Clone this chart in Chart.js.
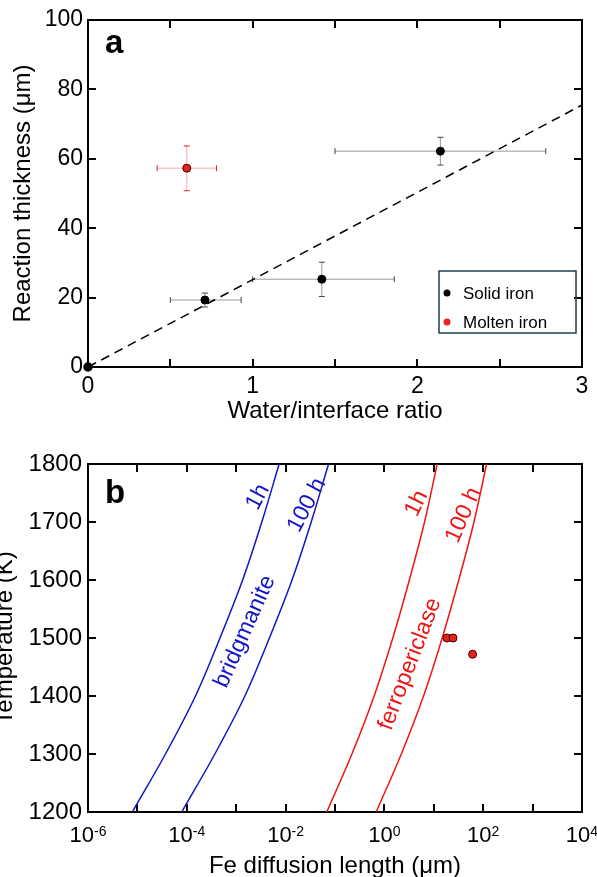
<!DOCTYPE html>
<html>
<head>
<meta charset="utf-8">
<script src="https://cdn.jsdelivr.net/npm/chart.js@4.4.1/dist/chart.umd.min.js"></script>
<style>
  html, body { margin: 0; padding: 0; background: #fff; overflow: hidden; }
  #chartA { position: absolute; left: 0; top: 0; }
  #chartB { position: absolute; left: 0; top: 440px; }
</style>
</head>
<body>
<canvas id="chartA" width="597" height="432"></canvas>
<canvas id="chartB" width="597" height="437"></canvas>
<script>
// ---- panel a : reaction thickness vs water/interface ratio ----
const solidX = [0.71, 1.42, 2.14];
const solidY = [19.3, 25.3, 62.2];
const solidXLow = [0.50, 1.00, 1.50];
const solidXHigh = [0.93, 1.86, 2.78];
const solidYLow = [17.3, 20.3, 58.2];
const solidYHigh = [21.3, 30.2, 66.2];

const moltenX = [0.60];
const moltenY = [57.3];
const moltenXLow = [0.42];
const moltenXHigh = [0.78];
const moltenYLow = [50.8];
const moltenYHigh = [63.7];

const fitX = [0, 3];
const fitY = [0, 75.5];

const ticksAX = [0, 0.5, 1, 1.5, 2, 2.5, 3];
const ticksAY = [0, 20, 40, 60, 80, 100];

// ---- panel b : temperature vs Fe diffusion length ----
const tempK = [1200, 1300, 1400, 1500, 1600, 1700, 1800];
const bridg1h = [7.9e-6, 3.7e-5, 1.5e-4, 4.7e-4, 1.35e-3, 3.3e-3, 7.4e-3];
const bridg100h = [7.9e-5, 3.7e-4, 1.5e-3, 4.7e-3, 1.35e-2, 3.3e-2, 7.4e-2];
const ferro1h = [0.068, 0.22, 0.62, 1.48, 3.2, 6.5, 11.7];
const ferro100h = [0.68, 2.2, 6.2, 14.8, 32, 65, 117];
const expLength = [18.5, 24.5, 61];
const expTemp = [1500, 1500, 1472];

const ticksBX = [1e-6, 1e-5, 1e-4, 1e-3, 1e-2, 1e-1, 1e0, 1e1, 1e2, 1e3, 1e4];
const labelsBX = [-6, -4, -2, 0, 2, 4]; // exponents that get a label
const ticksBY = [1200, 1300, 1400, 1500, 1600, 1700, 1800];

const FONT = '"Liberation Sans", Arial, Helvetica, sans-serif';
const BLUE = '#1414c8';
const RED = '#f01414';

Chart.defaults.font.family = FONT;
Chart.defaults.color = '#000';

function pts(xs, ys) {
    return xs.map((v, i) => ({ x: v, y: ys[i] }));
}

// box round the plot with inward ticks on all four sides
const frame = {
    id: 'frame',
    beforeDatasetsDraw(chart, args, opts) {
        const { ctx, chartArea: a, scales: { x, y } } = chart;
        ctx.save();
        ctx.strokeStyle = '#000';
        ctx.lineWidth = 2;
        ctx.strokeRect(a.left, a.top, a.right - a.left, a.bottom - a.top);
        ctx.beginPath();
        opts.xTicks.forEach(v => {
            const px = Math.round(x.getPixelForValue(v));
            ctx.moveTo(px, a.bottom); ctx.lineTo(px, a.bottom - 8);
            ctx.moveTo(px, a.top); ctx.lineTo(px, a.top + 8);
        });
        opts.yTicks.forEach(v => {
            const py = Math.round(y.getPixelForValue(v));
            ctx.moveTo(a.left, py); ctx.lineTo(a.left + 8, py);
            ctx.moveTo(a.right, py); ctx.lineTo(a.right - 8, py);
        });
        ctx.stroke();
        ctx.restore();
    },
    afterDraw(chart, args, opts) {
        const { ctx, chartArea: a } = chart;
        ctx.save();
        ctx.font = 'bold 33px ' + FONT;
        ctx.fillStyle = '#000';
        ctx.textBaseline = 'alphabetic';
        ctx.fillText(opts.letter, a.left + 17, a.top + opts.letterDrop);
        ctx.restore();
    }
};

// error bars for panel a
const errorBars = {
    id: 'errorBars',
    beforeDatasetsDraw(chart, args, opts) {
        const { ctx, scales: { x, y } } = chart;
        ctx.save();
        opts.sets.forEach(s => {
            s.x.forEach((xv, i) => {
                const px = x.getPixelForValue(xv), py = y.getPixelForValue(s.y[i]);
                const x0 = x.getPixelForValue(s.xLow[i]), x1 = x.getPixelForValue(s.xHigh[i]);
                const y0 = y.getPixelForValue(s.yLow[i]), y1 = y.getPixelForValue(s.yHigh[i]);
                ctx.lineWidth = 1;
                ctx.strokeStyle = s.line;
                ctx.beginPath();
                ctx.moveTo(x0, py); ctx.lineTo(x1, py);
                ctx.moveTo(px, y0); ctx.lineTo(px, y1);
                ctx.stroke();
                ctx.strokeStyle = s.cap;
                ctx.beginPath();
                ctx.moveTo(x0, py - 3); ctx.lineTo(x0, py + 3);
                ctx.moveTo(x1, py - 3); ctx.lineTo(x1, py + 3);
                ctx.moveTo(px - 3, y0); ctx.lineTo(px + 3, y0);
                ctx.moveTo(px - 3, y1); ctx.lineTo(px + 3, y1);
                ctx.stroke();
            });
        });
        ctx.restore();
    },
    afterDraw(chart) {
        // legend box inside the plot
        const { ctx } = chart;
        const items = chart.data.datasets.filter(d => d.inLegend);
        ctx.save();
        ctx.strokeStyle = '#1e3d4f';
        ctx.lineWidth = 1.5;
        ctx.strokeRect(439, 271, 137, 62);
        ctx.font = '17px ' + FONT;
        ctx.textBaseline = 'middle';
        items.forEach((d, i) => {
            const yy = 293 + i * 29;
            ctx.beginPath();
            ctx.arc(447, yy, 3.5, 0, Math.PI * 2);
            ctx.fillStyle = d.backgroundColor;
            ctx.fill();
            ctx.fillStyle = '#000';
            ctx.fillText(d.label, 463, yy + 1);
        });
        ctx.restore();
    }
};

// rotated curve labels and 10^n tick labels for panel b
const curveText = {
    id: 'curveText',
    afterDatasetsDraw(chart, args, opts) {
        const { ctx, chartArea: a, scales: { x, y } } = chart;
        ctx.save();
        ctx.font = '23px ' + FONT;
        ctx.textAlign = 'center';
        ctx.textBaseline = 'middle';
        opts.labels.forEach(l => {
            ctx.save();
            ctx.translate(x.getPixelForValue(l.x), y.getPixelForValue(l.y));
            ctx.rotate(l.angle * Math.PI / 180);
            ctx.fillStyle = l.color;
            ctx.fillText(l.text, 0, 0);
            ctx.restore();
        });
        // x tick labels with superscript exponents
        ctx.fillStyle = '#000';
        ctx.textAlign = 'left';
        ctx.textBaseline = 'alphabetic';
        labelsBX.forEach(e => {
            const px = x.getPixelForValue(Math.pow(10, e));
            const sup = String(e);
            ctx.font = '22px ' + FONT;
            const wBase = ctx.measureText('10').width;
            ctx.font = '14px ' + FONT;
            const wSup = ctx.measureText(sup).width;
            const left = px - (wBase + wSup) / 2;
            const base = a.bottom + 30;
            ctx.font = '22px ' + FONT;
            ctx.fillText('10', left, base);
            ctx.font = '14px ' + FONT;
            ctx.fillText(sup, left + wBase, base - 6);
        });
        ctx.restore();
    }
};

new Chart(document.getElementById('chartA'), {
    type: 'scatter',
    data: {
        datasets: [
            {
                label: 'Solid iron',
                inLegend: true,
                data: pts(solidX, solidY),
                backgroundColor: '#000',
                borderColor: '#000',
                pointRadius: 4
            },
            {
                label: 'Molten iron',
                inLegend: true,
                data: pts(moltenX, moltenY),
                backgroundColor: '#e8231f',
                borderColor: '#3a0000',
                borderWidth: 1,
                pointRadius: 4
            },
            {
                label: 'fit',
                data: pts(fitX, fitY),
                showLine: true,
                borderColor: '#000',
                borderWidth: 1.5,
                borderDash: [9, 6],
                pointRadius: [4, 0],
                pointBackgroundColor: '#000',
                clip: false
            }
        ]
    },
    options: {
        responsive: false,
        animation: false,
        devicePixelRatio: 1,
        layout: { padding: { top: 20, right: 15, left: 0, bottom: 0 } },
        plugins: {
            legend: { display: false },
            tooltip: { enabled: false },
            frame: { xTicks: ticksAX, yTicks: ticksAY, letter: 'a', letterDrop: 33 },
            errorBars: {
                sets: [
                    { x: solidX, y: solidY, xLow: solidXLow, xHigh: solidXHigh, yLow: solidYLow, yHigh: solidYHigh, line: '#9a9a9a', cap: '#444' },
                    { x: moltenX, y: moltenY, xLow: moltenXLow, xHigh: moltenXHigh, yLow: moltenYLow, yHigh: moltenYHigh, line: '#f6a9a9', cap: '#e02020' }
                ]
            }
        },
        scales: {
            x: {
                min: 0, max: 3,
                grid: { display: false, drawTicks: false },
                border: { display: false },
                ticks: { stepSize: 1, autoSkip: false, padding: 6, font: { size: 23 }, callback: v => String(v) },
                title: { display: true, text: 'Water/interface ratio', font: { size: 24, lineHeight: 1 }, padding: { top: 0, bottom: 9 } },
                afterFit: s => { s.height = 65; }
            },
            y: {
                min: 0, max: 100,
                grid: { display: false, drawTicks: false },
                border: { display: false },
                ticks: { stepSize: 20, autoSkip: false, padding: 5, font: { size: 23 }, callback: v => String(v) },
                title: { display: true, text: 'Reaction thickness (μm)', font: { size: 24, lineHeight: 1 }, padding: { top: 11, bottom: 0 } },
                afterFit: s => { s.width = 88; }
            }
        }
    },
    plugins: [frame, errorBars]
});

new Chart(document.getElementById('chartB'), {
    type: 'scatter',
    data: {
        datasets: [
            {
                label: 'experiments',
                data: pts(expLength, expTemp),
                backgroundColor: '#e8231f',
                borderColor: '#3a0000',
                borderWidth: 1,
                pointRadius: 4
            },
            {
                label: 'bridgmanite 1h',
                data: pts(bridg1h, tempK),
                showLine: true, pointRadius: 0, borderColor: BLUE, borderWidth: 1.5, tension: 0.35
            },
            {
                label: 'bridgmanite 100 h',
                data: pts(bridg100h, tempK),
                showLine: true, pointRadius: 0, borderColor: BLUE, borderWidth: 1.5, tension: 0.35
            },
            {
                label: 'ferropericlase 1h',
                data: pts(ferro1h, tempK),
                showLine: true, pointRadius: 0, borderColor: RED, borderWidth: 1.5, tension: 0.35
            },
            {
                label: 'ferropericlase 100 h',
                data: pts(ferro100h, tempK),
                showLine: true, pointRadius: 0, borderColor: RED, borderWidth: 1.5, tension: 0.35
            }
        ]
    },
    options: {
        responsive: false,
        animation: false,
        devicePixelRatio: 1,
        layout: { padding: { top: 24, right: 15, left: 0, bottom: 0 } },
        plugins: {
            legend: { display: false },
            tooltip: { enabled: false },
            frame: { xTicks: ticksBX, yTicks: ticksBY, letter: 'b', letterDrop: 39 },
            curveText: {
                labels: [
                    { text: '1h', x: 2.75e-3, y: 1743, angle: -62, color: BLUE },
                    { text: '100 h', x: 0.027, y: 1729, angle: -62, color: BLUE },
                    { text: 'bridgmanite', x: 1.5e-3, y: 1511, angle: -66, color: BLUE },
                    { text: '1h', x: 4.5, y: 1732, angle: -64, color: RED },
                    { text: '100 h', x: 40, y: 1712, angle: -66, color: RED },
                    { text: 'ferropericlase', x: 3.3, y: 1455, angle: -69, color: RED }
                ]
            }
        },
        scales: {
            x: {
                type: 'logarithmic',
                min: 1e-6, max: 1e4,
                grid: { display: false, drawTicks: false },
                border: { display: false },
                ticks: { display: false },
                title: { display: true, text: 'Fe diffusion length (μm)', font: { size: 24, lineHeight: 0.8 }, padding: { top: 0, bottom: 1 } },
                afterFit: s => { s.height = 65; }
            },
            y: {
                min: 1200, max: 1800,
                grid: { display: false, drawTicks: false },
                border: { display: false },
                ticks: { stepSize: 100, autoSkip: false, padding: 6, font: { size: 24 }, callback: v => String(v) },
                title: { display: true, text: 'Temperature (K)', font: { size: 24, lineHeight: 0.35 }, padding: { top: 1, bottom: 0 } },
                afterFit: s => { s.width = 88; }
            }
        }
    },
    plugins: [frame, curveText]
});
</script>
</body>
</html>
